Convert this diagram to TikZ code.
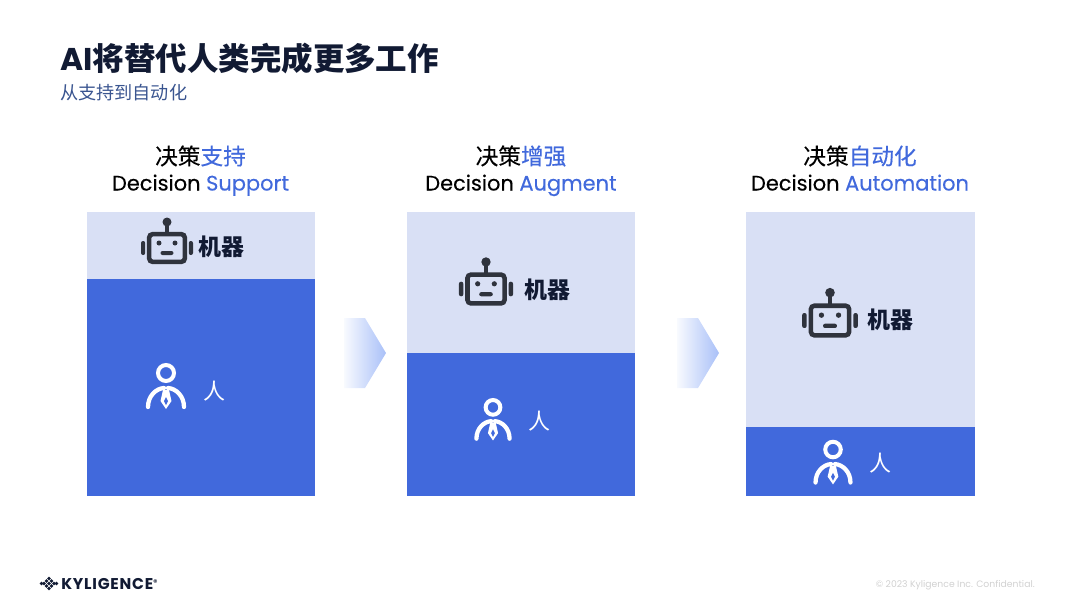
\documentclass[tikz,border=0pt]{standalone}
\usepackage{fontspec}
\setmainfont{Noto Sans CJK SC}
\newfontfamily\latfont[FakeBold=0.25]{Poppins}
\newfontfamily\cjkmedium[FakeBold=0.25]{Noto Sans CJK SC}
\newfontfamily\plainlat{Poppins}
\newfontfamily\logofont[LetterSpace=5]{Poppins}
\usetikzlibrary{positioning}
\definecolor{inkdark}{HTML}{111A33}
\definecolor{subblue}{HTML}{3A5590}
\definecolor{kyblue}{HTML}{4169DC}
\definecolor{kypale}{HTML}{D9E0F5}
\definecolor{arrowblue}{HTML}{A9C0F8}
\definecolor{robotgray}{HTML}{2F333D}

\begin{document}
\begin{tikzpicture}[
        x=0.75pt, y=-0.75pt,
        machine/.style = {fill=kypale, draw=none, anchor=north west, inner sep=0pt, minimum width=171pt},
        human/.style = {fill=kyblue, draw=none, anchor=north west, inner sep=0pt, minimum width=171pt},
        head/.style = {font=\cjkmedium\fontsize{17}{20}\selectfont, text=black, inner sep=0pt},
        sub/.style = {font=\latfont\fontsize{15.7}{18}\selectfont, text=black, inner sep=0pt, anchor=base},
        machlabel/.style = {font=\bfseries\fontsize{17.2}{20}\selectfont, text=inkdark, inner sep=0pt},
        humlabel/.style = {font=\fontsize{16.5}{20}\selectfont, text=white, inner sep=0pt},
        robot/.pic = {
            \fill[robotgray] (0,-26) circle (4.5);
            \draw[robotgray, line width=2.4pt] (0,-23) -- (0,-15);
            \draw[robotgray, line width=3.4pt, rounded corners=2.5pt] (-17.8,-13.8) rectangle (17.8,13.8);
            \fill[robotgray, rounded corners=1.5pt] (-26,-7) rectangle (-21.8,7);
            \fill[robotgray, rounded corners=1.5pt] (21.8,-7) rectangle (26,7);
            \fill[robotgray] (-8,-5) circle (2.5);
            \fill[robotgray] (8,-5) circle (2.5);
            \fill[robotgray, rounded corners=1.5pt] (-6.5,3) rectangle (6.5,7);
        },
        person/.pic = {
            \draw[white, line width=3pt] (0,-17) circle (8);
            \draw[white, line width=3.2pt, line cap=round] (-18,17) .. controls (-18,6) and (-10,-1.5) .. (-2,-2);
            \draw[white, line width=3.2pt, line cap=round] (18,17) .. controls (18,6) and (10,-1.5) .. (2,-2);
            \fill[white] (-3,0) -- (3,0) -- (5.5,11) -- (0,19) -- (-5.5,11) -- cycle;
            \fill[kyblue] (0,7) -- (2,11) -- (0,15) -- (-2,11) -- cycle;
        }
    ]
        \useasboundingbox (0,0) rectangle (1068,594);

        % title
        \node[anchor=west, inner sep=0pt, text=inkdark, font=\bfseries\fontsize{23.6}{28}\selectfont] (title) at (60,59) {{\plainlat\bfseries AI}将替代人类完成更多工作};
        \node[anchor=west, inner sep=0pt, text=subblue, font=\fontsize{13.6}{16}\selectfont] (subtitle) at (60,93) {从支持到自动化};

        % column 1
        \node[machine, minimum height=50.25pt] (M1) at (87,212) {};
        \node[human, minimum height=162.75pt] (H1) at (87,279) {};
        \node[head] (T1) at (200.5,156) {决策\textcolor{kyblue}{支持}};
        \node[sub] (S1) at (200.5,190.5) {Decision \textcolor{kyblue}{Support}};
        \pic at (167,248) {robot};
        \node[machlabel, anchor=west] (ML1) at (198,247) {机器};
        \pic at (166,390) {person};
        \node[humlabel, anchor=west] (HL1) at (203,391) {人};

        % column 2
        \node[machine, minimum height=105.75pt] (M2) at (407,212) {};
        \node[human, minimum height=107.25pt] (H2) at (407,353) {};
        \node[head] (T2) at (521,156) {决策\textcolor{kyblue}{增强}};
        \node[sub] (S2) at (521,190.5) {Decision \textcolor{kyblue}{Augment}};
        \pic[scale=1.04] at (486,289) {robot};
        \node[machlabel, anchor=west] (ML2) at (524,290) {机器};
        \pic[scale=0.92] at (493,423) {person};
        \node[humlabel, anchor=west] (HL2) at (528,421) {人};

        % column 3
        \node[machine, minimum height=161.25pt, minimum width=171.75pt] (M3) at (746,212) {};
        \node[human, minimum height=51.75pt, minimum width=171.75pt] (H3) at (746,427) {};
        \node[head] (T3) at (860,156) {决策\textcolor{kyblue}{自动化}};
        \node[sub] (S3) at (860,190.5) {Decision \textcolor{kyblue}{Automation}};
        \pic[scale=1.07] at (830,320.5) {robot};
        \node[machlabel, anchor=west] (ML3) at (867,320) {机器};
        \pic[scale=0.97] at (833,466) {person};
        \node[humlabel, anchor=west] (HL3) at (869,463) {人};

        % arrows between the columns
        \foreach \xa in {344, 677}{
            \shade[left color=arrowblue!8, right color=arrowblue]
                (\xa,318) -- (\xa+21,318) -- (\xa+42,353) -- (\xa+21,388) -- (\xa,388) -- cycle;
        }

        % logo
        \foreach \i/\j in {0/-2, -1/-1, 1/-1, -2/0, 0/0, 2/0, -1/1, 1/1, 0/2, -3/0, 3/0}{
            \fill[inkdark, shift={(49+\i*2.5,583.5+\j*2.5)}, rotate=45] (-1.4,-1.4) rectangle (1.4,1.4);
        }
        \node[anchor=west, inner sep=0pt, text=inkdark, font=\logofont\bfseries\fontsize{11.7}{12}\selectfont] (logo) at (61,583.5) {KYLIGENCE\raisebox{2.5pt}{\fontsize{6}{6}\selectfont ®}};
        \node[anchor=east, inner sep=0pt, text=black!18, font=\plainlat\fontsize{6.95}{8}\selectfont] (copy) at (1035,585) {© 2023 Kyligence Inc. Confidential.};
    \end{tikzpicture}
\end{document}
